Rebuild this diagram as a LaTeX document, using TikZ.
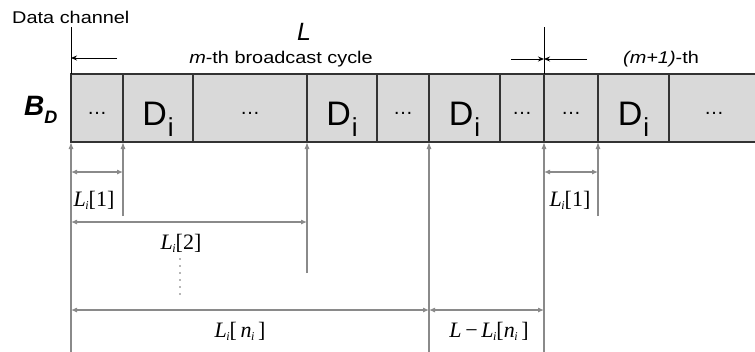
\documentclass[tikz,border=0pt]{standalone}
\usepackage{fontspec}
\setmainfont{Liberation Sans}
\newfontfamily\tnr{Liberation Serif}
\usetikzlibrary{arrows.meta,calc}
\definecolor{cellgray}{HTML}{D9D9D9}
\definecolor{dimgray}{HTML}{8A8A8A}
\definecolor{edgecol}{HTML}{333333}
\newcommand{\Dlab}{{\fontsize{34}{34}\selectfont D\kern1pt\raisebox{-11pt}{\fontsize{26}{26}\selectfont i}}}
\newcommand{\LiTxt}{{\itshape L\kern-0.5pt\raisebox{-3pt}{\fontsize{12}{12}\selectfont i}}}
\newcommand{\niTxt}{{\itshape n\kern-0.5pt\raisebox{-3pt}{\fontsize{12}{12}\selectfont i}}}
\newcommand{\dotstxt}{\fontsize{20}{20}\selectfont …}
\begin{document}
\begin{tikzpicture}[x=1pt,y=-1pt,
 cell/.style={draw=edgecol, line width=1.1pt, fill=cellgray, minimum height=68pt, inner sep=0pt, outer sep=0pt, anchor=north west},
 ctext/.style={anchor=base, inner sep=0pt},
 vline/.style={draw=dimgray, line width=1.1pt},
 uparrow/.style={vline, -{Latex[length=7pt,width=5pt]}},
 dim/.style={vline, {Latex[length=6pt,width=5pt]}-{Latex[length=6pt,width=5pt]}},
 lab/.style={inner sep=0pt, font=\tnr\fontsize{22}{22}\selectfont},
 sans/.style={inner sep=0pt, xscale=1.17, font=\fontsize{17}{17}\selectfont},
 blk/.style={draw=black, line width=0.9pt},
 blkarrow/.style={blk, -{Stealth[length=6pt,width=5pt]}}
]
\useasboundingbox (0,0) rectangle (755,351);
% cells
\node[cell, minimum width=52pt] (c1) at (71,74) {};
\node[cell, minimum width=70pt] (c2) at (c1.north east) {};
\node[cell, minimum width=114pt] (c3) at (c2.north east) {};
\node[cell, minimum width=70pt] (c4) at (c3.north east) {};
\node[cell, minimum width=52pt] (c5) at (c4.north east) {};
\node[cell, minimum width=71pt] (c6) at (c5.north east) {};
\node[cell, minimum width=44pt] (c7) at (c6.north east) {};
\node[cell, minimum width=54pt] (c8) at (c7.north east) {};
\node[cell, minimum width=71pt] (c9) at (c8.north east) {};
\node[cell, minimum width=90pt] (c10) at (c9.north east) {};
% cell texts
\node[ctext] (x1) at ([yshift=27.5pt]c1.south) {\dotstxt};
\node[ctext] (x2) at ([yshift=17pt]c2.south) {\Dlab};
\node[ctext] (x3) at ([yshift=27.5pt]c3.south) {\dotstxt};
\node[ctext] (x4) at ([yshift=17pt]c4.south) {\Dlab};
\node[ctext] (x5) at ([yshift=27.5pt]c5.south) {\dotstxt};
\node[ctext] (x6) at ([yshift=17pt]c6.south) {\Dlab};
\node[ctext] (x7) at ([yshift=27.5pt]c7.south) {\dotstxt};
\node[ctext] (x8) at ([yshift=27.5pt]c8.south) {\dotstxt};
\node[ctext] (x9) at ([yshift=17pt]c9.south) {\Dlab};
\node[ctext] (x10) at ([yshift=27.5pt]c10.south) {\dotstxt};
% top
\coordinate (t0) at (71,27);
\coordinate (t1) at (544,27);
\draw[blk] (t0) -- (c1.north west);
\draw[blk] (t1) -- (c8.north west);
\coordinate (a0) at (117,58);
\coordinate (a1) at (511,59);
\coordinate (a2) at (587,59);
\draw[blkarrow] (a0) -- (t0 |- a0);
\draw[blkarrow] (a1) -- (t1 |- a1);
\draw[blkarrow] (a2) -- (t1 |- a2);
\node[sans, anchor=base west] (dc) at (12,23) {Data channel};
\node[sans, anchor=base] (mth) at (281,63) {\textit{m}-th broadcast cycle};
\node[sans, anchor=base] (m1) at (661,63) {\textit{(m+1)}-th};
\node[inner sep=0pt, font=\fontsize{25}{25}\selectfont\itshape, anchor=base] (L) at (304,40) {L};
\node[anchor=base west, inner sep=0pt] (BD) at (24,115) {\fontsize{28}{28}\selectfont\bfseries\itshape B\raisebox{-8pt}{\fontsize{18}{18}\selectfont D}};
% bottom verticals
\coordinate (e1) at (71,352);
\coordinate (e2) at (123,216);
\coordinate (e3) at (307,273);
\coordinate (e4) at (429,352);
\coordinate (e5) at (544,352);
\coordinate (e6) at (598,216);
\draw[uparrow] (e1) -- (c1.south west);
\draw[uparrow] (e2) -- (c2.south west);
\draw[uparrow] (e3) -- (c4.south west);
\draw[uparrow] (e4) -- (c6.south west);
\draw[uparrow] (e5) -- (c8.south west);
\draw[uparrow] (e6) -- (c9.south west);
% dimensions
\coordinate (y1) at (0,172);
\coordinate (y2) at (0,222);
\coordinate (y3) at (0,310);
\draw[dim] (e1 |- y1) -- (e2 |- y1);
\draw[dim] (e1 |- y2) -- (e3 |- y2);
\draw[dim] (e1 |- y3) -- (e4 |- y3);
\draw[dim] (e4 |- y3) -- (e5 |- y3);
\draw[dim] (e5 |- y1) -- (e6 |- y1);
\node[lab] (l1) at (94,200) {\LiTxt[1]};
\node[lab] (l2) at (181,243) {\LiTxt[2]};
\node[lab] (l3) at (240,331) {\LiTxt[\,\niTxt\,]};
\node[lab] (l4) at (489,331) {\textit{L}\,−\,\LiTxt[\niTxt\,]};
\node[lab] (l5) at (570,200) {\LiTxt[1]};
% vertical dots
\foreach \yy in {259,266,273,280,287,294}
  \fill[dimgray!80!black] (180,\yy) circle (0.8pt);
\end{tikzpicture}
\end{document}
